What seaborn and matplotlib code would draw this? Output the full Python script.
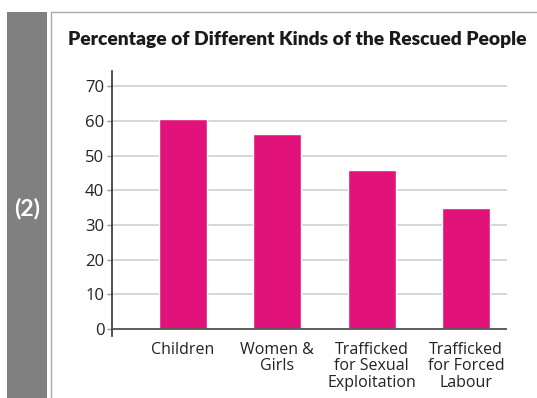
import matplotlib
matplotlib.use("Agg")
import matplotlib.pyplot as plt
import seaborn as sns
import pandas as pd
from matplotlib.patches import Rectangle
from matplotlib.lines import Line2D

# Chart data
categories = ["Children", "Women &\nGirls", "Trafficked\nfor Sexual\nExploitation",
              "Trafficked\nfor Forced\nLabour"]
percentages = [60.5, 56.2, 45.8, 34.8]
y_ticks = [0, 10, 20, 30, 40, 50, 60, 70]
title = "Percentage of Different Kinds of the Rescued People"
panel_label = "(2)"

sns.set_theme(style="white")
plt.rcParams["font.family"] = ["Open Sans", "DejaVu Sans"]

W, H = 537, 398
fig = plt.figure(figsize=(W / 100, H / 100), dpi=100)
fig.patch.set_facecolor("white")


def fx(px):
    return px / W


def fy(py):
    return 1 - py / H


# Grey side strip with the panel number
fig.add_artist(Rectangle((fx(7), 0), fx(47) - fx(7), fy(12), transform=fig.transFigure,
                         facecolor="#808080", edgecolor="none"))
fig.text(fx(27), fy(208), panel_label, color="white", fontsize=16.5, fontweight="bold",
         family=["Lato", "DejaVu Sans"], ha="center", va="center")

# Frame around the chart panel (left and top edges)
fig.add_artist(Line2D([fx(50.5), fx(50.5)], [0, fy(12)], transform=fig.transFigure,
                      color="#a8a8a8", lw=1))
fig.add_artist(Line2D([fx(50.5), 1], [fy(12), fy(12)], transform=fig.transFigure,
                      color="#a8a8a8", lw=1))

# Title
fig.text(fx(297), fy(45), title, fontsize=13.9, fontweight="heavy", color="#1a1a1a",
         family=["Lato", "DejaVu Sans"], ha="center", va="baseline")

ax = fig.add_axes([fx(112), fy(336), fx(507) - fx(112), fy(71) - fy(336)])
df = pd.DataFrame({"category": categories, "percentage": percentages})
sns.barplot(data=df, x="category", y="percentage", color="#e1137b", saturation=1,
            width=0.51, ax=ax, zorder=3)

ax.set_xlim(-0.753, 3.436)
ax.set_ylim(-2.0, 74.4)
ax.set_yticks(y_ticks)
ax.set_yticklabels([str(t) for t in y_ticks])
ax.set_xlabel("")
ax.set_ylabel("")

ax.yaxis.grid(True, color="#cbcbcb", lw=1.1)
ax.set_axisbelow(True)
ax.axhline(0, color="#555555", lw=1.3, zorder=4)

for side in ["top", "right", "bottom"]:
    ax.spines[side].set_visible(False)
ax.spines["left"].set_color("#333333")
ax.spines["left"].set_linewidth(1.2)

ax.tick_params(axis="y", length=3.5, width=1, color="#999999", pad=2,
               labelsize=12, labelcolor="#222222", left=True)
ax.tick_params(axis="x", length=0, pad=4, labelsize=11.5, labelcolor="#222222")
for lbl in ax.get_xticklabels():
    lbl.set_linespacing(1.05)

fig.savefig("out.png", dpi=100, facecolor="white")
